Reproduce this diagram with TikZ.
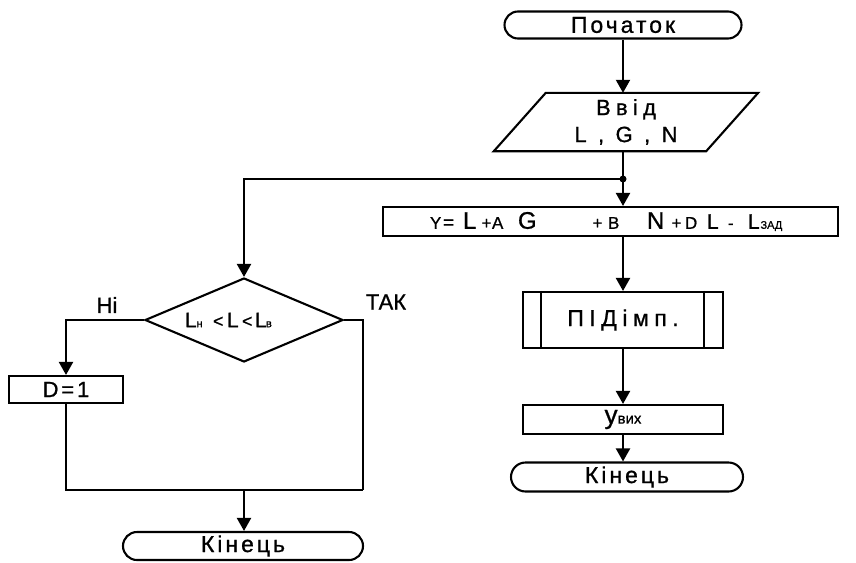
\documentclass[tikz,border=0pt]{standalone}
\usepackage{fontspec}
\setmainfont{Liberation Sans}[FakeBold=0.9]
\newfontfamily\spaced{Liberation Sans}[LetterSpace=13,FakeBold=0.9]
\newfontfamily\spacedw{Liberation Sans}[LetterSpace=24,FakeBold=0.9]
\usetikzlibrary{shapes.geometric,shapes.misc,arrows.meta,calc}
\newcommand\mytk[2]{\rlap{\hspace*{#1pt}#2}}
\newcommand\fsz[1]{\fontsize{#1}{#1}\selectfont}
\begin{document}
\begin{tikzpicture}[x=1pt,y=-1pt,
  ln/.style={line width=2.1pt},
  arr/.style={line width=2.1pt,-{Triangle[length=13pt,width=14pt]}},
  term/.style={rounded rectangle, draw, line width=2.1pt, inner sep=0pt},
  boxn/.style={rectangle, draw, line width=2.1pt, inner sep=0pt},
  lbl/.style={inner sep=0pt}]
\useasboundingbox (0,0) rectangle (856,562);
\fill[white] (0,0) rectangle (856,562);

% main column
\node[term, minimum width=237pt, minimum height=27pt, font=\spaced\fsz{23}] (start) at (623,25) {Початок};
\node[inner sep=0pt, minimum width=212pt, minimum height=58pt, align=center, font=\spacedw\fontsize{22}{27}\selectfont] (inp) at (626,122) {Ввід\\L , G , N};
\draw[ln] ($(inp.south west)+(-26,0)$) -- ($(inp.north west)+(26,0)$) -- ($(inp.north east)+(26,0)$) -- ($(inp.south east)+(-26,0)$) -- cycle;
\draw[arr] (start.south) -- (start.south |- inp.north);

\coordinate (j) at (623,179);
\draw[ln] (j |- inp.south) -- (j);
\fill (j) circle (3.5pt);

\node[boxn, minimum width=455pt, minimum height=29pt] (ry) at (610.5,221.5) {%
\mytk{-180.5}{\fsz{17}Y}%
\mytk{-167.5}{\fsz{19}=}%
\mytk{-147.5}{\fsz{24}L}%
\mytk{-129}{\fsz{17}+}%
\mytk{-118.5}{\fsz{17}A}%
\mytk{-92.5}{\fsz{24}G}%
\mytk{-18}{\fsz{17}+}%
\mytk{-2.5}{\fsz{17}B}%
\mytk{36.5}{\fsz{24}N}%
\mytk{61}{\fsz{17}+}%
\mytk{74.5}{\fsz{17}D}%
\mytk{96.5}{\fsz{21}L}%
\mytk{117.5}{\fsz{17}-}%
\mytk{137.5}{\fsz{21}L}%
\mytk{150}{\fsz{11}ЗАД}}; 
\draw[arr] (j) -- (j |- ry.north);

\node[boxn, minimum width=200pt, minimum height=56pt, font=\spacedw\fsz{23}] (sub) at (623,320) {ПІДімп.};
\draw[ln] ($(sub.north west)+(19,0)$) -- ($(sub.south west)+(19,0)$);
\draw[ln] ($(sub.north east)+(-20,0)$) -- ($(sub.south east)+(-20,0)$);
\draw[arr] (ry.south -| j) -- (sub.north);

\node[boxn, minimum width=200pt, minimum height=29pt] (yo) at (623,419.5) {{\fsz{26}y}{\fsz{15}вих}};
\draw[arr] (sub.south) -- (yo.north);

\node[term, minimum width=232pt, minimum height=29pt, font=\spaced\fsz{23}] (end1) at (627,477) {Кінець};
\draw[arr] (yo.south) -- (yo.south |- end1.north);

% left branch
\node[diamond, draw, line width=2.1pt, inner sep=0pt, minimum width=198pt, minimum height=84pt] (dm) at (244,320) {%
\mytk{-59}{\fsz{21}L}%
\mytk{-47.5}{\fsz{11}н}%
\mytk{-31}{\fsz{18}<}%
\mytk{-17}{\fsz{21}L}%
\mytk{-2}{\fsz{18}<}%
\mytk{11}{\fsz{21}L}%
\mytk{22}{\fsz{11}в}};
\draw[arr] (j) -| (dm.north);

\node[lbl, font=\fsz{22}] (ni) at (107,305) {Ні};
\node[lbl, font=\fsz{22}] (tak) at (386,302) {ТАК};

\node[boxn, minimum width=114pt, minimum height=27pt, font=\spaced\fsz{22}] (d1) at (66,389.5) {D=1};
\draw[arr] (dm.west) -| (d1.north);

\coordinate (mr) at (363,490);
\coordinate (mm) at (244,490);
\draw[ln] (dm.east) -| (mr);
\draw[ln] (d1.south) |- (mr);

\node[term, minimum width=240pt, minimum height=28pt, font=\spaced\fsz{23}] (end2) at (243,546) {Кінець};
\draw[arr] (mm) -- (mm |- end2.north);
\end{tikzpicture}
\end{document}
